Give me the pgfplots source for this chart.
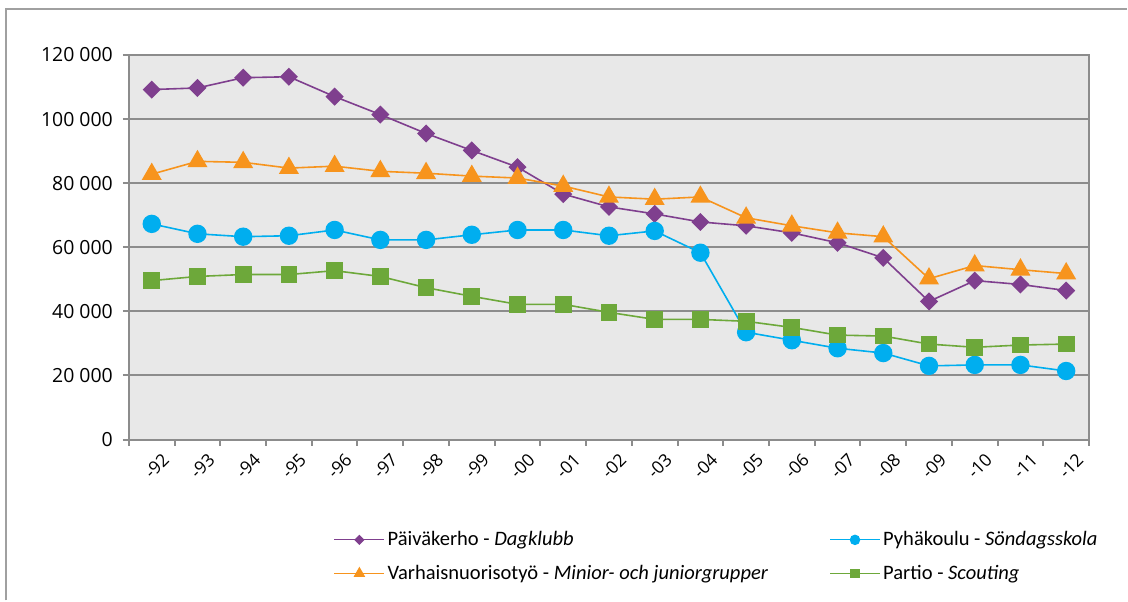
\documentclass[border=0pt]{standalone}
\usepackage{fontspec}
\setmainfont{Open Sans}
\newfontfamily\legfont{Carlito}
\usepackage{pgfplots}
\pgfplotsset{compat=1.18}
\definecolor{cpurple}{RGB}{127,63,142}
\definecolor{corange}{RGB}{247,148,29}
\definecolor{cblue}{RGB}{0,174,239}
\definecolor{cgreen}{RGB}{109,168,58}
\definecolor{bgc}{RGB}{232,232,232}
\definecolor{axgray}{RGB}{140,140,140}
\definecolor{framegray}{RGB}{160,160,160}
\begin{document}
\begin{tikzpicture}
\path (0pt,0pt) rectangle (846pt,450.75pt);
\draw[framegray, line width=1.5pt] (4.5pt,0pt) -- (4.5pt,444pt) -- (846pt,444pt);
\begin{axis}[
  at={(96.75pt,120.75pt)}, anchor=south west,
  width=720.75pt, height=288.75pt, scale only axis,
  xmin=-0.5, xmax=20.5, ymin=0, ymax=120000,
  scaled y ticks=false,
  axis background/.style={fill=bgc},
  axis line style={draw=axgray, line width=1.5pt},
  ytick={0,20000,40000,60000,80000,100000,120000},
  yticklabels={0,20 000,40 000,60 000,80 000,100 000,120 000},
  ymajorgrids, grid style={draw=axgray, line width=1.5pt},
  xtick={0,...,20},
  xticklabels={-92,-93,-94,-95,-96,-97,-98,-99,-00,-01,-02,-03,-04,-05,-06,-07,-08,-09,-10,-11,-12},
  minor xtick={-0.5,0.5,...,20.5},
  major x tick style={draw=none},
  minor x tick style={draw=axgray, line width=1.5pt},
  major y tick style={draw=axgray, line width=1.5pt},
  tick align=outside, tick pos=left,
  major tick length=4.5pt, minor tick length=4.5pt,
  y tick label style={font=\fontsize{14.6}{17}\selectfont, xshift=-4pt},
  x tick label style={font=\fontsize{13.2}{15}\selectfont, rotate=45, anchor=north east, xshift=5pt, yshift=-5pt},
  legend columns=2,
  legend style={at={(0.209,-0.225)}, anchor=north west, draw=none, fill=none,
    font=\legfont\fontsize{15.4}{18}\selectfont, row sep=9pt,
    /tikz/every even column/.append style={column sep=44pt}},
  legend cell align=left,
  legend image code/.code={\begin{scope}[every mark/.append style={scale=0.55}]\draw[mark repeat=2,mark phase=2,#1, line width=0.9pt] plot coordinates {(0pt,0pt) (18.75pt,0pt) (37.5pt,0pt)};\end{scope}},
]
\addplot[cpurple, line width=1.2pt, mark=square*, mark size=4.2pt, mark options={rotate=45}] coordinates {
(0,109200) (1,109700) (2,112900) (3,113200) (4,107000) (5,101400) (6,95500) (7,90200) (8,85000) (9,76600) (10,72600) (11,70400) (12,67900) (13,66700) (14,64500) (15,61400) (16,56700) (17,43100) (18,49600) (19,48400) (20,46500)};
\addlegendentry{Päiväkerho - \textit{Dagklubb}}
\addplot[cblue, line width=1.2pt, mark=*, mark size=6.3pt] coordinates {
(0,67300) (1,64200) (2,63300) (3,63600) (4,65400) (5,62300) (6,62300) (7,63900) (8,65400) (9,65400) (10,63600) (11,65100) (12,58300) (13,33500) (14,31000) (15,28500) (16,27000) (17,23000) (18,23300) (19,23300) (20,21400)};
\addlegendentry{Pyhäkoulu - \textit{Söndagsskola}}
\addplot[corange, line width=1.2pt, mark=triangle*, mark size=7.5pt] coordinates {
(0,82800) (1,86800) (2,86500) (3,84700) (4,85300) (5,83700) (6,83100) (7,82200) (8,81600) (9,79100) (10,75700) (11,75000) (12,75700) (13,69200) (14,66700) (15,64500) (16,63300) (17,50200) (18,54300) (19,53000) (20,51800)};
\addlegendentry{Varhaisnuorisotyö - \textit{Minior- och juniorgrupper}}
\addplot[cgreen, line width=1.2pt, mark=square*, mark size=5.7pt] coordinates {
(0,49600) (1,50900) (2,51500) (3,51500) (4,52700) (5,50900) (6,47400) (7,44700) (8,42200) (9,42200) (10,39700) (11,37500) (12,37500) (13,36900) (14,35000) (15,32600) (16,32300) (17,29800) (18,28800) (19,29500) (20,29800)};
\addlegendentry{Partio - \textit{Scouting}}
\end{axis}
\end{tikzpicture}
\end{document}
